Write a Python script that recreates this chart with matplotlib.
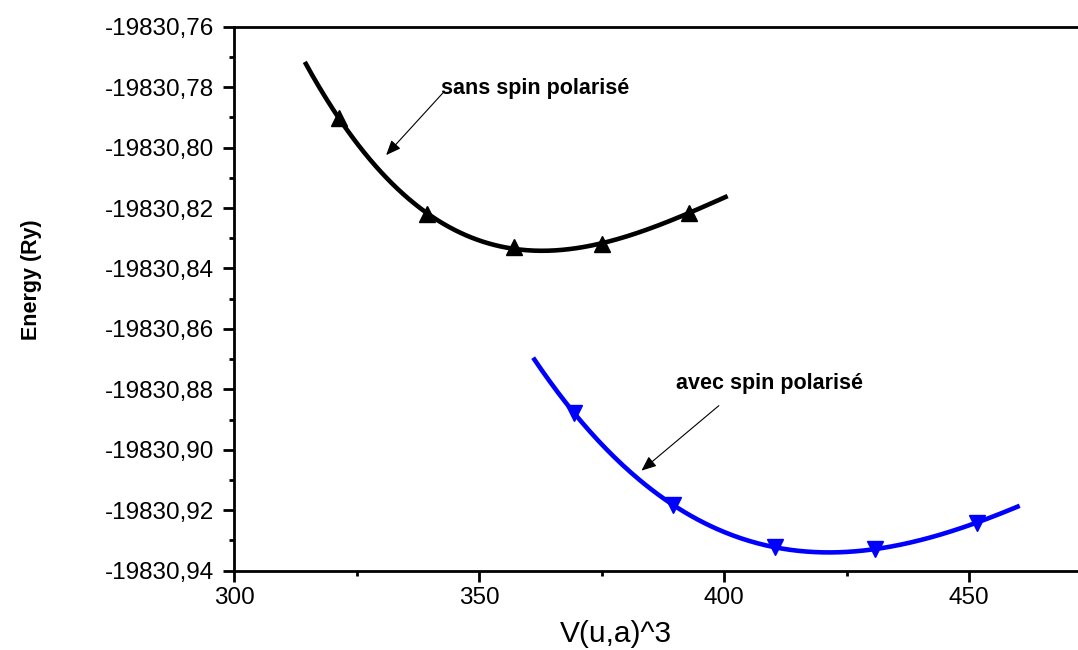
"""E(V) curves: sans / avec spin polarisé (fitted curves + calculated points)."""

import matplotlib
matplotlib.use("Agg")
import matplotlib.pyplot as plt
import numpy as np
from matplotlib.ticker import FixedLocator, FuncFormatter, MultipleLocator

plt.rcParams["font.family"] = ["Liberation Sans", "DejaVu Sans"]

# calculated points
V_SANS = [321.4, 339.3, 357.1, 375.0, 392.9]
E_SANS = [-19830.7903, -19830.8220, -19830.8330, -19830.8320, -19830.8215]
V_AVEC = [369.4, 389.6, 410.3, 430.7, 451.5]
E_AVEC = [-19830.8879, -19830.9183, -19830.9322, -19830.9329, -19830.9241]

# range over which each fitted curve is drawn
FIT_RANGE_SANS = (314.4, 400.7)
FIT_RANGE_AVEC = (361.0, 460.3)

Y_TICKS = [-19830.94, -19830.92, -19830.90, -19830.88, -19830.86,
           -19830.84, -19830.82, -19830.80, -19830.78, -19830.76]
X_TICKS = [300, 350, 400, 450]


def fitted(v, e, vrange):
    v = np.asarray(v)
    e = np.asarray(e)
    v0 = v.mean()
    e0 = e.mean()
    coef = np.polyfit(v - v0, e - e0, 3)
    vv = np.linspace(vrange[0], vrange[1], 300)
    return vv, np.polyval(coef, vv - v0) + e0


fig = plt.figure(figsize=(10.78, 6.5), dpi=100)
ax = fig.add_axes([0.2173, 0.122, 0.7827, 0.837])

vs, es = fitted(V_SANS, E_SANS, FIT_RANGE_SANS)
va, ea = fitted(V_AVEC, E_AVEC, FIT_RANGE_AVEC)
ax.plot(vs, es, color="black", lw=3.3, solid_capstyle="butt")
ax.plot(V_SANS, E_SANS, ls="none", marker="^", ms=12, color="black")
ax.plot(va, ea, color="#0000ff", lw=3.3, solid_capstyle="butt")
ax.plot(V_AVEC, E_AVEC, ls="none", marker="v", ms=12, color="#0000ff")

arrow = dict(arrowstyle="-|>,head_length=0.6,head_width=0.25",
             lw=0.8, color="black", mutation_scale=15,
             shrinkA=0, shrinkB=0)
ax.text(342.2, -19830.7806, "sans spin polarisé", fontsize=15.5,
        fontweight="bold", ha="left", va="center")
ax.annotate("", xy=(331.0, -19830.8025), xytext=(342.6, -19830.7819),
            arrowprops=arrow)
ax.text(390.2, -19830.8782, "avec spin polarisé", fontsize=15.5,
        fontweight="bold", ha="left", va="center")
ax.annotate("", xy=(383.1, -19830.9069), xytext=(398.9, -19830.8854),
            arrowprops=arrow)

ax.set_xlim(300, 472.2)
ax.set_ylim(-19830.94, -19830.76)
ax.xaxis.set_major_locator(FixedLocator(X_TICKS))
ax.xaxis.set_minor_locator(MultipleLocator(25))
ax.yaxis.set_major_locator(FixedLocator(Y_TICKS))
ax.yaxis.set_minor_locator(MultipleLocator(0.01))
ax.yaxis.set_major_formatter(
    FuncFormatter(lambda v, p: f"{v:.2f}".replace(".", ",")))

for side in ("left", "bottom", "top"):
    ax.spines[side].set_linewidth(2)
ax.spines["right"].set_visible(False)
ax.tick_params(which="major", direction="out", length=8, width=2,
               labelsize=17.5)
ax.tick_params(which="minor", direction="out", length=3.6, width=2)
ax.tick_params(axis="y", which="major", pad=6.5)
ax.tick_params(axis="x", which="major", pad=4)

ax.set_xlabel("V(u,a)^3", fontsize=21.5)
ax.xaxis.label.set_va("center")
ax.xaxis.set_label_coords(0.4524, -0.116)
ax.set_ylabel("Energy (Ry)", fontsize=15.5, fontweight="bold")
ax.yaxis.label.set_va("center")
ax.yaxis.set_label_coords((32 - 234.3) / 843.7, 0.534)

fig.savefig("out.png", dpi=100)
